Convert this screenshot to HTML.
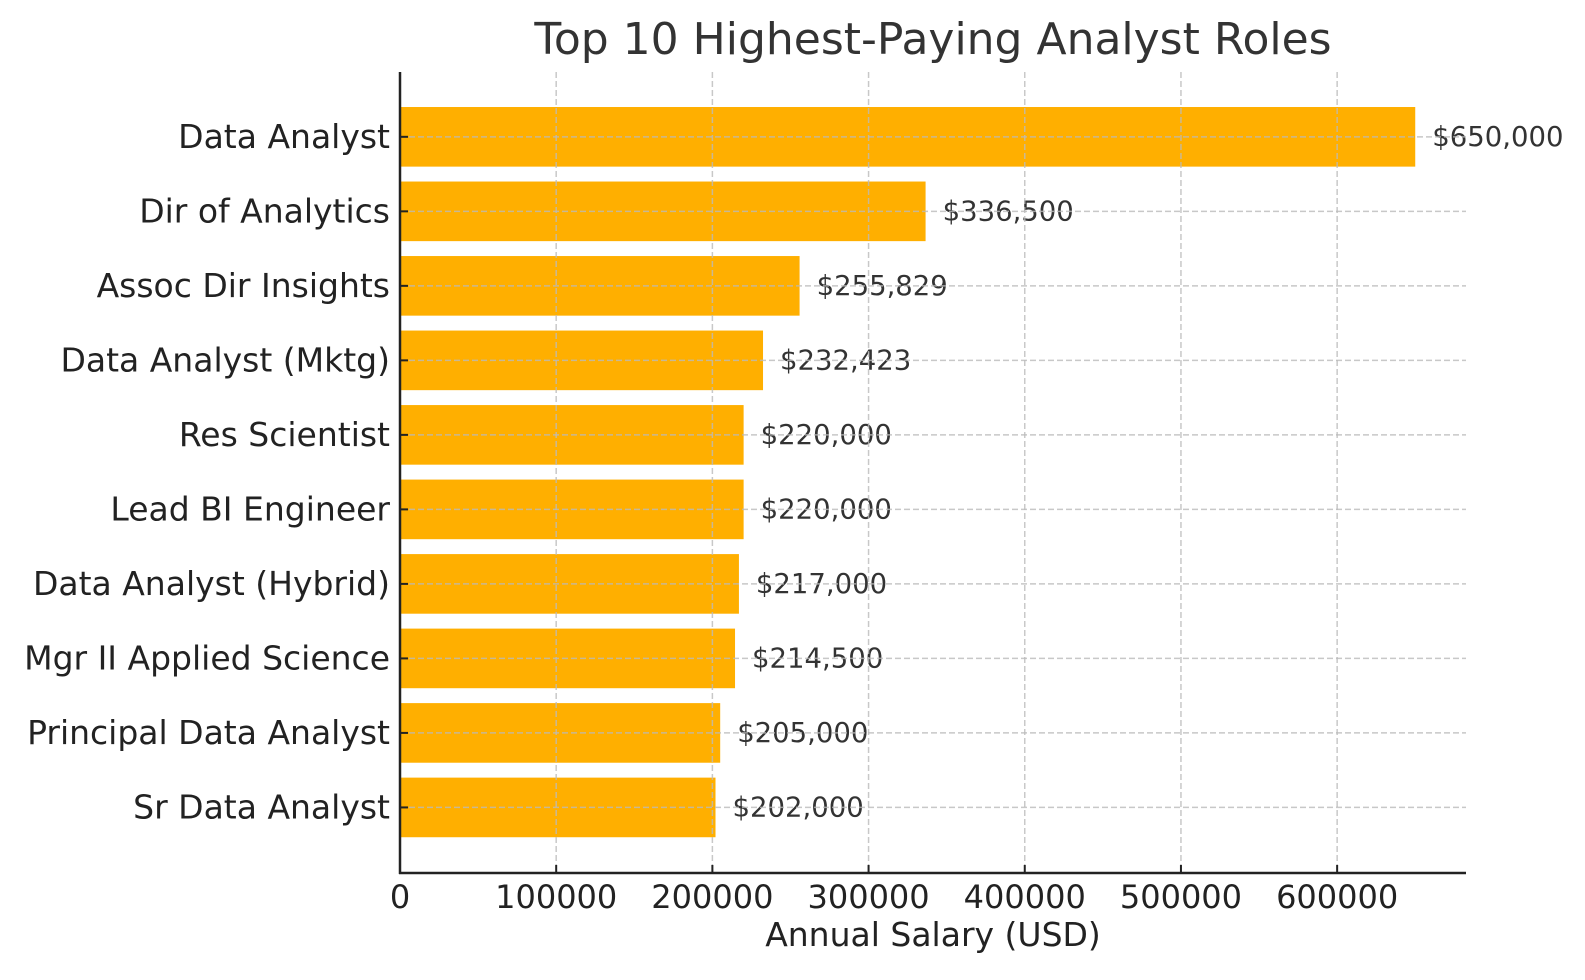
<!DOCTYPE html>
<html><head><meta charset="utf-8"><style>
body{margin:0;background:#fff}
svg{display:block;font-family:"DejaVu Sans","Liberation Sans",sans-serif}
</style></head><body>
<svg id="chart" width="1585" height="980" viewBox="0 0 1585 980" xmlns="http://www.w3.org/2000/svg">
<text x="933" y="54" text-anchor="middle" font-size="44" fill="#333">Top 10 Highest-Paying Analyst Roles</text>
<text x="933" y="946" text-anchor="middle" font-size="33" fill="#222">Annual Salary (USD)</text>
<g id="grid"></g><g id="bars"></g><g id="gridover"></g><g id="axes"></g>
</svg>
<script>
const roles=["Data Analyst","Dir of Analytics","Assoc Dir Insights","Data Analyst (Mktg)","Res Scientist","Lead BI Engineer","Data Analyst (Hybrid)","Mgr II Applied Science","Principal Data Analyst","Sr Data Analyst"];
const salaries=[650000,336500,255829,232423,220000,220000,217000,214500,205000,202000];
const xTicks=[0,100000,200000,300000,400000,500000,600000];
const NS="http://www.w3.org/2000/svg";
const L=400,R=1466,T=72,B=873;
const xmax=Math.max(...salaries)*1.05;
const x=v=>L+v/xmax*(R-L);
const step=(B-T)/(salaries.length-1+1.75);
const y=i=>T+0.87*step+i*step;
function mk(tag,attrs,parent){const e=document.createElementNS(NS,tag);for(const k in attrs)e.setAttribute(k,attrs[k]);parent.appendChild(e);return e;}
const grid=document.getElementById('gridover'),bars=document.getElementById('bars'),axes=document.getElementById('axes');
salaries.forEach((v,i)=>{
  const r=mk('rect',{x:L,y:y(i)-step*0.4,width:x(v)-L,height:step*0.8,fill:'#FFAF00'},bars);
  
  
  const t=mk('text',{x:x(v)+17,y:y(i)+9,'font-size':27.5,fill:'#333'},bars);
  t.textContent='$'+v.toLocaleString('en-US');
  
  
  const g=mk('line',{x1:L,x2:R,y1:y(i),y2:y(i),stroke:'#bbb','stroke-width':1.5,'stroke-dasharray':'6 3','opacity':0.8},grid);
  
  
  mk('line',{x1:L,x2:L+8,y1:y(i),y2:y(i),stroke:'#222','stroke-width':2},axes);
  const yl=mk('text',{x:L-10,y:y(i)+11,'font-size':33,fill:'#222','text-anchor':'end'},axes);
  yl.textContent=roles[i];
  
  
});
xTicks.forEach(v=>{
  if(v>0){const g=mk('line',{x1:x(v),x2:x(v),y1:T,y2:B,stroke:'#bbb','stroke-width':1.5,'stroke-dasharray':'6 3','opacity':0.8},grid);
  
  }
  mk('line',{x1:x(v),x2:x(v),y1:B,y2:B-8,stroke:'#222','stroke-width':2},axes);
  const t=mk('text',{x:x(v),y:908,'font-size':32,fill:'#222','text-anchor':'middle'},axes);
  t.textContent=v;
  
  
});
const ya=mk('line',{x1:L,x2:L,y1:T,y2:B+1,stroke:'#222','stroke-width':2.5},axes);


const xa=mk('line',{x1:L-1,x2:R,y1:B,y2:B,stroke:'#222','stroke-width':2.5},axes);


</script>
</body></html>
